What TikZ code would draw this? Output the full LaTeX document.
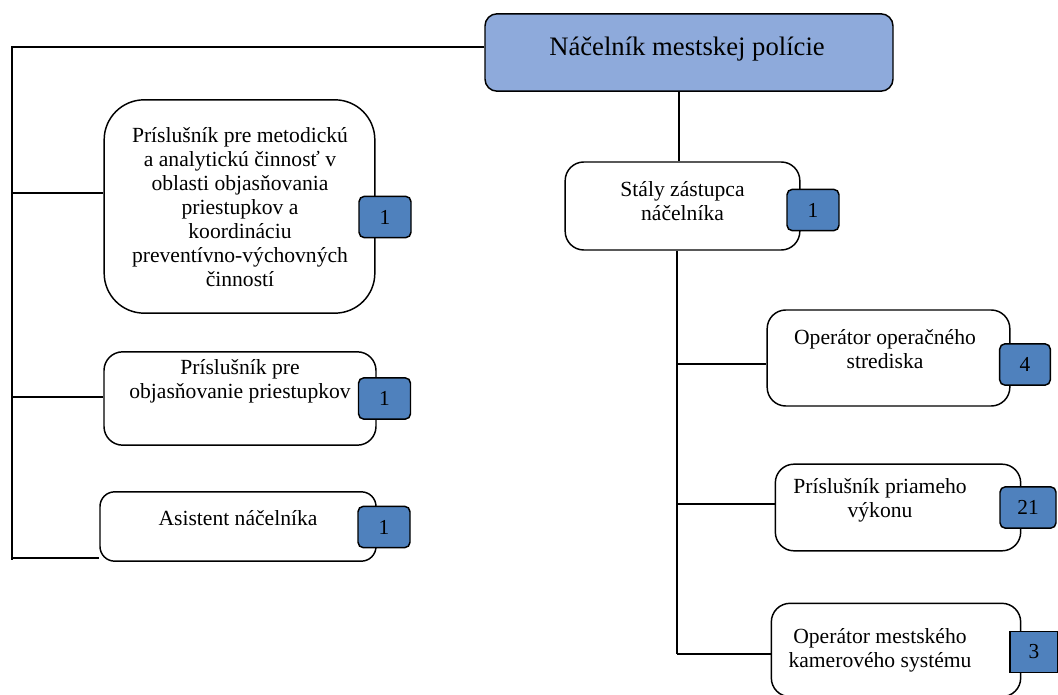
\documentclass[tikz,border=0pt]{standalone}
\usepackage{fontspec}
\setmainfont{Liberation Serif}
\definecolor{topfill}{HTML}{8EAADB}
\definecolor{cntfill}{HTML}{4F81BD}
\begin{document}
\begin{tikzpicture}[x=0.75pt,y=-0.75pt,
  line width=1.1pt,
  box/.style={draw=black,fill=white,rounded corners=14pt,inner sep=0pt},
  cnt/.style={draw=black,fill=cntfill,rounded corners=4pt,minimum width=39pt,minimum height=31pt,inner sep=0pt,font=\fontsize{16}{18}\selectfont},
  txt/.style={align=center,font=\fontsize{16.2}{18}\selectfont,inner sep=0pt},
  conn/.style={draw=black,line width=1.1pt}]
\useasboundingbox (0,0) rectangle (1058,695);
% top
\node[box,fill=topfill,rounded corners=9pt,minimum width=306pt,minimum height=58pt] (top) at (689,52.5) {};
\node[txt,font=\fontsize{20}{24}\selectfont] (toptxt) at (687,49) {Náčelník mestskej polície};
% left branch
\node[box,rounded corners=30pt,minimum width=203pt,minimum height=160pt] (b1) at (239.5,206.5) {};
\node[txt] (t1) at (240,207) {Príslušník pre metodickú\\a analytickú činnosť v\\oblasti objasňovania\\priestupkov a\\koordináciu\\preventívno-výchovných\\činností};
\node[cnt] (c1) at (385,217) {1};
\node[box,minimum width=204pt,minimum height=70pt] (b2) at (240,398.5) {};
\node[txt] (t2) at (240,381) {Príslušník pre\\objasňovanie priestupkov};
\node[cnt] (c2) at (384.5,398.5) {1};
\node[box,rounded corners=11pt,minimum width=207pt,minimum height=52pt] (b3) at (238,526.5) {};
\node[txt] (t3) at (238,518) {Asistent náčelníka};
\node[cnt] (c3) at (384,527) {1};
% right branch
\node[box,minimum width=176pt,minimum height=66pt] (s) at (682.5,206) {};
\node[txt] (ts) at (682.5,201) {Stály zástupca\\náčelníka};
\node[cnt] (cs) at (813,210) {1};
\node[box,minimum width=182pt,minimum height=72pt] (r1) at (888.5,358) {};
\node[txt] (tr1) at (885,349) {Operátor operačného\\strediska};
\node[cnt,minimum width=38pt] (cr1) at (1025,364.5) {4};
\node[box,minimum width=184pt,minimum height=65pt] (r2) at (898,507.5) {};
\node[txt] (tr2) at (880,500) {Príslušník priameho\\výkonu};
\node[cnt,minimum width=42pt] (cr2) at (1028,507.5) {21};
\node[box,minimum width=187pt,minimum height=70pt] (r3) at (896,650) {};
\node[txt] (tr3) at (880,650) {Operátor mestského\\kamerového systému};
\node[cnt,rounded corners=0pt,minimum width=36pt] (cr3) at (1034,652) {3};
% connectors
\coordinate (tl) at (12,47);
\coordinate (bl) at (12,560);
\draw[conn] (top.west |- tl) -- (tl) -- (bl);
\draw[conn] (12,193) -- (b1.west |- 0,193);
\draw[conn] (12,397) -- (b2.west |- 0,397);
\draw[conn] (12,558) -- (b3.west |- 0,558);
\draw[conn] (679,0 |- top.south) -- (679,0 |- s.north);
\coordinate (rb) at (677,654);
\draw[conn] (677,0 |- s.south) -- (rb);
\draw[conn] (677,364) -- (r1.west |- 0,364);
\draw[conn] (677,504) -- (r2.west |- 0,504);
\draw[conn] (rb) -- (r3.west |- rb);
\end{tikzpicture}
\end{document}
